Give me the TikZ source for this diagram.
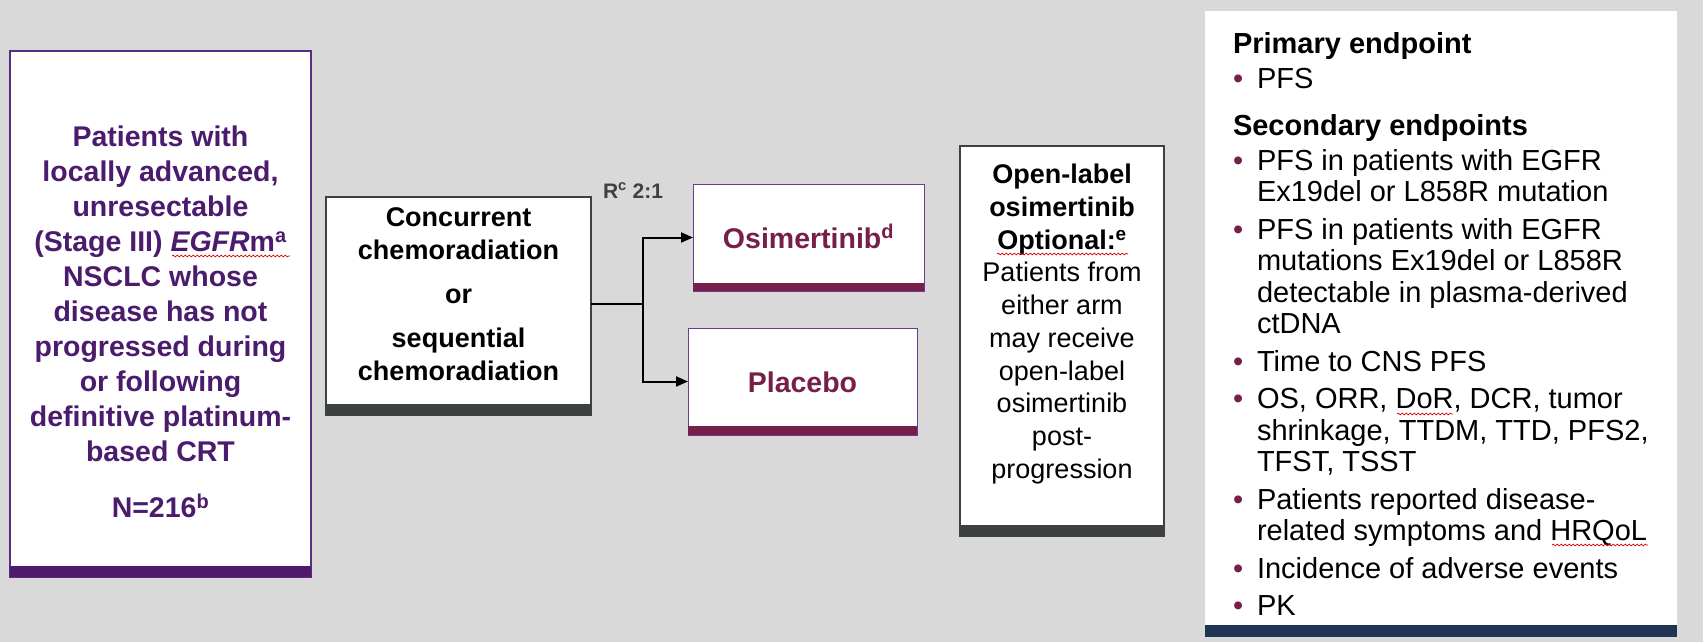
\documentclass[tikz,border=0pt]{standalone}
\usepackage{fontspec}
\setmainfont{Liberation Sans}
\usetikzlibrary{arrows.meta,decorations.pathmorphing,calc}
\definecolor{bg}{HTML}{D9D9D9}
\definecolor{lpurple}{HTML}{4B1C6E}
\definecolor{lbar}{HTML}{4F1A6B}
\definecolor{lborder}{HTML}{5A2D82}
\definecolor{armborder}{HTML}{6B3D8F}
\definecolor{maroon}{HTML}{761F4B}
\definecolor{dgrey}{HTML}{3E4142}
\definecolor{navy}{HTML}{1F3553}
\definecolor{rgrey}{HTML}{404040}
\newcommand{\bul}{\makebox[24pt][l]{\textcolor{maroon}{\textbullet}}}
\newcommand{\ind}{\hspace*{24pt}}
\begin{document}
\begin{tikzpicture}[x=1pt,y=-1pt,
  box/.style={draw, fill=white, inner sep=0pt, outer sep=0pt},
  txt/.style={inner sep=0pt, outer sep=0pt},
  conn/.style={line width=2pt, black},
  tip/.style={-{Triangle[length=12pt,width=10pt]}},
  spell/.style={draw=red!85!black, line width=0.7pt, decorate,
    decoration={snake, segment length=4pt, amplitude=0.9pt}}]
\useasboundingbox (0,0) rectangle (1703,642);
\fill[bg] (0,0) rectangle (1703,642);

% boxes
\node[box, draw=lborder, line width=1.5pt, minimum width=301pt, minimum height=526pt] (L) at (160.5,314) {};
\fill[lbar] (L.south west) rectangle ([yshift=11pt]L.south east);

\node[box, draw=dgrey, line width=1.5pt, minimum width=265pt, minimum height=218pt] (C) at (458.5,306) {};
\fill[dgrey] (C.south west) rectangle ([yshift=11pt]C.south east);

\node[box, draw=armborder, line width=1pt, minimum width=231pt, minimum height=107pt] (O) at (808.5,237.5) {};
\fill[maroon] (O.south west) rectangle ([yshift=8pt]O.south east);

\node[box, draw=armborder, line width=1pt, minimum width=229pt, minimum height=107pt] (P) at (802.5,381.5) {};
\fill[maroon] (P.south west) rectangle ([yshift=9pt]P.south east);

\node[box, draw=dgrey, line width=1.5pt, minimum width=204pt, minimum height=390pt] (E) at (1062,341) {};
\fill[dgrey] (E.south west) rectangle ([yshift=11pt]E.south east);

\node[box, draw=none, minimum width=472pt, minimum height=626pt] (R) at (1441,324) {};
\fill[navy] (R.south west) rectangle ([yshift=12pt]R.south east);

% texts
\node[txt, anchor=north, align=center, text=lpurple,
  font=\fontsize{28.5}{35}\selectfont\bfseries] (Ltxt) at (160.5,126)
  {Patients with\\locally advanced,\\unresectable\\(Stage III) \textit{EGFR}m\textsuperscript{a}\\NSCLC whose\\disease has not\\progressed during\\or following\\definitive platinum-\\based CRT\\[21pt]N=216\textsuperscript{b}};

\node[txt, anchor=north, align=center,
  font=\fontsize{27}{33}\selectfont\bfseries] (Ctxt) at (458.5,208)
  {Concurrent\\chemoradiation\\[11pt]or\\[11pt]sequential\\chemoradiation};

\node[txt, anchor=base, text=maroon, font=\fontsize{28.5}{30}\selectfont\bfseries] (Otxt) at (808.5,248) {Osimertinib\textsuperscript{d}};
\node[txt, anchor=base, text=maroon, font=\fontsize{28.5}{30}\selectfont\bfseries] (Ptxt) at (802.5,392) {Placebo};

\node[txt, anchor=base west, text=rgrey, font=\fontsize{21}{21}\selectfont\bfseries] (rand) at (603,198) {R\textsuperscript{c} 2:1};

\node[txt, anchor=north, align=center,
  font=\fontsize{27}{32.7}\selectfont] (Etxt) at (1062,164.3)
  {\textbf{Open-label}\\\textbf{osimertinib}\\\textbf{Optional:\textsuperscript{e}}\\Patients from\\either arm\\may receive\\open-label\\osimertinib\\post-\\progression};

\node[txt, anchor=north west, align=left,
  font=\fontsize{29}{31.5}\selectfont] (Rtxt) at (1233,32)
  {\textbf{Primary endpoint}\\[3.5pt]
   \bul PFS\\[15.5pt]
   \textbf{Secondary endpoints}\\[3.5pt]
   \bul PFS in patients with EGFR\\
   \ind Ex19del or L858R mutation\\[6pt]
   \bul PFS in patients with EGFR\\
   \ind mutations Ex19del or L858R\\
   \ind detectable in plasma-derived\\
   \ind ctDNA\\[6pt]
   \bul Time to CNS PFS\\[6pt]
   \bul OS, ORR, DoR, DCR, tumor\\
   \ind shrinkage, TTDM, TTD, PFS2,\\
   \ind TFST, TSST\\[6pt]
   \bul Patients reported disease-\\
   \ind related symptoms and HRQoL\\[6pt]
   \bul Incidence of adverse events\\[6pt]
   \bul PK};

% connectors
\coordinate (split) at (643,304);
\draw[conn] (C.east |- split) -- (split);
\draw[conn, tip] (split) |- (O.west);
\draw[conn, tip] (split) |- (P.west);

% spell-check marks
\draw[spell] (172,256) -- (290,256);
\draw[spell] (997,254) -- (1128,254);
\draw[spell] (1397,414) -- (1453,414);
\draw[spell] (1552,545) -- (1648,545);
\end{tikzpicture}
\end{document}
